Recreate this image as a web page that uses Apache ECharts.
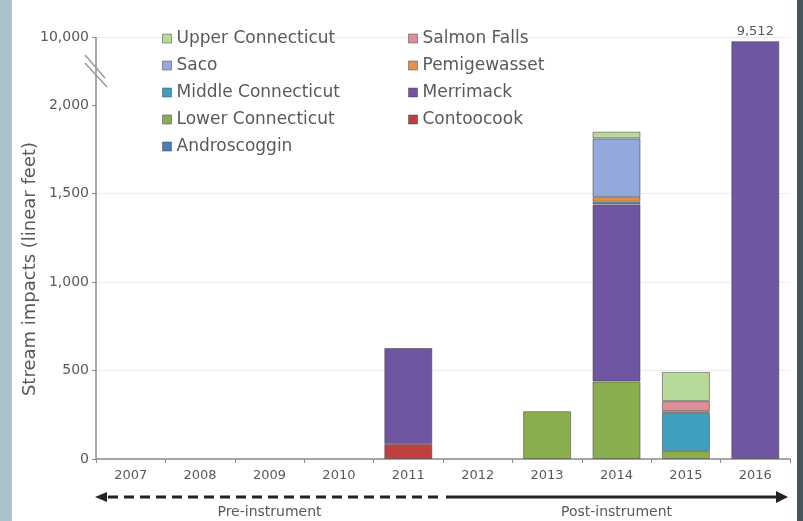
<!DOCTYPE html>
<html>
<head>
<meta charset="utf-8">
<script src="https://cdn.jsdelivr.net/npm/echarts@6/dist/echarts.min.js"></script>
<style>html,body{margin:0;padding:0;background:#fff}#c{width:803px;height:521px}</style>
</head>
<body>
<div id="c"></div>
<script>
const years = ['2007','2008','2009','2010','2011','2012','2013','2014','2015','2016'];
const androscoggin      = [null,null,null,null,null,null,null,null,null,null];
const contoocook        = [null,null,null,null,85,null,null,null,null,null];
const lowerConnecticut  = [null,null,null,null,null,null,270,438,45,null];
const merrimack         = [null,null,null,null,542,null,null,1000,null,9512];
const middleConnecticut = [null,null,null,null,null,null,null,15,215,null];
const pemigewasset      = [null,null,null,null,null,null,null,26,10,null];
const saco              = [null,null,null,null,null,null,null,332,null,null];
const salmonFalls       = [null,null,null,null,null,null,null,null,57,null];
const upperConnecticut  = [null,null,null,null,null,null,null,38,165,null];
const yTicks = [0,500,1000,1500,2000,10000];

const seriesDefs = [
  ['Androscoggin', androscoggin, '#4a7bb2'],
  ['Contoocook', contoocook, '#c0403f'],
  ['Lower Connecticut', lowerConnecticut, '#8aae4e'],
  ['Merrimack', merrimack, '#7055a0'],
  ['Middle Connecticut', middleConnecticut, '#3f9fbd'],
  ['Pemigewasset', pemigewasset, '#e8904a'],
  ['Saco', saco, '#93a9db'],
  ['Salmon Falls', salmonFalls, '#dd8f98'],
  ['Upper Connecticut', upperConnecticut, '#b7d99a']
];

const txt = '#595959';
const chart = echarts.init(document.getElementById('c'));
const series = seriesDefs.map(([name, data, color]) => ({
  name, type: 'bar', stack: 'all', barWidth: 48,
  itemStyle: { color, borderColor: 'rgba(70,70,70,0.55)', borderWidth: 1 },
  data: data.map((v, i) => (name === 'Merrimack' && i === 9)
    ? { value: v, label: { show: true, position: 'top', distance: 3, color: txt, fontSize: 13, fontFamily: 'DejaVu Sans', formatter: (p) => p.value.toLocaleString('en-US') } }
    : v)
}));

const legendText = { color: txt, fontSize: 17, fontFamily: 'DejaVu Sans', lineHeight: 16 };
chart.setOption({
  backgroundColor: '#fff',
  animation: false,
  grid: { left: 96, right: 13, top: 37, bottom: 62 },
  legend: [
    { orient: 'vertical', left: 157, top: 25, itemWidth: 9, itemHeight: 9, itemGap: 10, icon: 'rect',
      textStyle: legendText,
      itemStyle: { borderColor: 'rgba(70,70,70,0.5)', borderWidth: 1 },
      data: ['Upper Connecticut', 'Saco', 'Middle Connecticut', 'Lower Connecticut', 'Androscoggin'] },
    { orient: 'vertical', left: 403, top: 25, itemWidth: 9, itemHeight: 9, itemGap: 10, icon: 'rect',
      textStyle: legendText,
      itemStyle: { borderColor: 'rgba(70,70,70,0.5)', borderWidth: 1 },
      data: ['Salmon Falls', 'Pemigewasset', 'Merrimack', 'Contoocook'] }
  ],
  xAxis: {
    type: 'category', data: years,
    axisLine: { lineStyle: { color: '#8c8c8c', width: 1.5 } },
    axisTick: { show: true, length: 4, lineStyle: { color: '#8c8c8c' } },
    axisLabel: { color: txt, fontSize: 13, fontFamily: 'DejaVu Sans', margin: 10 }
  },
  yAxis: {
    type: 'value', min: 0, max: 10000, interval: 500,
    breaks: [{ start: 2000, end: 10000, gap: '16.1%' }],
    breakArea: { show: false },
    axisLine: { show: true, lineStyle: { color: '#8c8c8c', width: 1.5 } },
    axisTick: { show: true, length: 4, lineStyle: { color: '#8c8c8c' } },
    axisLabel: { color: txt, fontSize: 14, fontFamily: 'DejaVu Sans', margin: 7,
      formatter: (v) => yTicks.includes(v) ? v.toLocaleString('en-US') : '' },
    splitLine: { show: true, lineStyle: { color: '#ededed', width: 1 } }
  },
  series
});

function drawDecor() {
  const x0 = chart.convertToPixel({ xAxisIndex: 0 }, '2007') - 34.7;
  const xMid = (chart.convertToPixel({ xAxisIndex: 0 }, '2011') + chart.convertToPixel({ xAxisIndex: 0 }, '2012')) / 2;
  const x1 = chart.convertToPixel({ xAxisIndex: 0 }, '2016') + 34.7;
  const yA = 497;
  const yTop = chart.convertToPixel({ yAxisIndex: 0 }, 10000);
  const y2k = chart.convertToPixel({ yAxisIndex: 0 }, 2000);
  const yc = (yTop + y2k) / 2;
  const ax = 96;
  chart.setOption({
    graphic: [
      { type: 'rect', shape: { x: 0, y: 0, width: 12, height: 521 }, style: { fill: '#aac1c9' }, silent: true },
      { type: 'rect', shape: { x: 797, y: 0, width: 6, height: 521 }, style: { fill: '#47555c' }, silent: true },
      { type: 'line', shape: { x1: ax, y1: yTop, x2: ax, y2: y2k }, style: { stroke: '#8c8c8c', lineWidth: 1.5 }, silent: true },
      { type: 'text', x: 30, y: 269, rotation: Math.PI / 2, style: { text: 'Stream impacts (linear feet)', fill: txt, font: '18px "DejaVu Sans"', align: 'center', verticalAlign: 'middle' }, silent: true },
      { type: 'line', shape: { x1: x0 + 12, y1: yA, x2: xMid - 2, y2: yA }, style: { stroke: '#222', lineWidth: 3, lineDash: [10, 6] }, silent: true },
      { type: 'polygon', shape: { points: [[x0 - 1, yA], [x0 + 11, yA - 5], [x0 + 11, yA + 5]] }, style: { fill: '#222' }, silent: true },
      { type: 'line', shape: { x1: xMid + 3, y1: yA, x2: x1 - 12, y2: yA }, style: { stroke: '#222', lineWidth: 3 }, silent: true },
      { type: 'polygon', shape: { points: [[x1 - 2, yA], [x1 - 14, yA - 6], [x1 - 14, yA + 6]] }, style: { fill: '#222' }, silent: true },
      { type: 'text', x: (x0 + xMid) / 2, y: 512, style: { text: 'Pre-instrument', fill: txt, font: '14px "DejaVu Sans"', align: 'center', verticalAlign: 'middle' }, silent: true },
      { type: 'text', x: (xMid + x1) / 2, y: 512, style: { text: 'Post-instrument', fill: txt, font: '14px "DejaVu Sans"', align: 'center', verticalAlign: 'middle' }, silent: true },
      { type: 'line', shape: { x1: ax - 11, y1: yc - 16, x2: ax + 9, y2: yc + 7 }, style: { stroke: '#9a9a9a', lineWidth: 1.5 }, silent: true },
      { type: 'line', shape: { x1: ax - 11, y1: yc - 8, x2: ax + 11, y2: yc + 16 }, style: { stroke: '#9a9a9a', lineWidth: 1.5 }, silent: true }
    ]
  });
}
drawDecor();
</script>
</body>
</html>
